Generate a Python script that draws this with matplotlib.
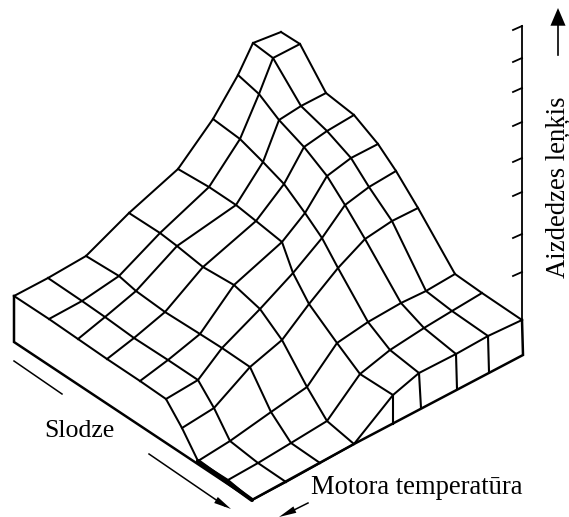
import matplotlib
matplotlib.use("Agg")
import matplotlib.pyplot as plt

# Surface mesh: one list per temperature line, one entry per load step.
mesh_x = [
    [14, 49, 78, 107, 140, 166, 182, 198, 228, 252],
    [48, 82, 105, 134, 168, 198, 214, 230, 258, 286],
    [86, 119, 136, 165, 200, 222, 250, 271, 291, 320],
    [129, 160, 177, 203, 234, 260, 282, 307, 327, 354],
    [178, 209, 236, 256, 282, 293, 309, 337, 360, 393],
    [213, 240, 263, 284, 305, 322, 338, 368, 390, 419],
    [238, 259, 279, 304, 327, 345, 365, 401, 424, 456],
    [253, 273, 301, 327, 351, 369, 392, 426, 452, 488],
    [281, 300, 326, 354, 378, 396, 418, 455, 482, 522],
]
mesh_y = [
    [296, 319, 339, 359, 381, 399, 428, 461, 480, 500],
    [278, 301, 317, 338, 360, 380, 408, 441, 463, 482],
    [256, 276, 291, 312, 334, 348, 367, 412, 443, 463],
    [213, 233, 246, 267, 285, 309, 340, 387, 421, 444],
    [169, 187, 205, 221, 242, 273, 304, 343, 374, 395],
    [119, 139, 162, 184, 213, 238, 268, 322, 350, 373],
    [75, 94, 120, 147, 176, 205, 239, 303, 328, 354],
    [43, 58, 106, 131, 158, 187, 221, 291, 311, 336],
    [32, 44, 93, 115, 144, 171, 208, 274, 293, 320],
]

# Base block outline and the vertical walls on the temperature side
base_x = [14, 14, 252, 354, 523, 522]
base_y = [296, 342, 500, 444, 355, 320]
wall_top_x = [393, 419, 456, 488]
wall_top_y = [395, 373, 354, 336]
wall_bottom_x = [393, 421, 457, 489]
wall_bottom_y = [424, 408, 389, 372]

# Height scale
scale_x = 522
scale_top = 26
scale_bottom = 320
scale_ticks = [26, 58, 88, 122, 158, 192, 234, 272]

title_z = "Aizdedzes leņķis"
title_load = "Slodze"
title_temp = "Motora temperatūra"

plt.rcParams["font.family"] = ["Liberation Serif", "DejaVu Serif"]
fig = plt.figure(figsize=(5.69, 5.17), dpi=100, facecolor="white")
ax = fig.add_axes([0, 0, 1, 1])
ax.set_xlim(0, 569)
ax.set_ylim(517, 0)
ax.axis("off")

LW = 1.45
for xs, ys in zip(mesh_x, mesh_y):
    ax.plot(xs, ys, color="black", lw=LW, solid_joinstyle="round")
for i in range(len(mesh_x[0])):
    ax.plot([r[i] for r in mesh_x], [r[i] for r in mesh_y], color="black", lw=LW,
            solid_joinstyle="round")

ax.plot(base_x, base_y, color="black", lw=1.8, solid_joinstyle="miter")
ax.plot([mesh_x[0][7], mesh_x[0][9]], [mesh_y[0][7], mesh_y[0][9]], color="black", lw=3.0,
        solid_capstyle="round")
for x0, y0, x1, y1 in zip(wall_top_x, wall_top_y, wall_bottom_x, wall_bottom_y):
    ax.plot([x0, x1], [y0, y1], color="black", lw=1.5)

ax.plot([scale_x, scale_x], [scale_top, scale_bottom], color="black", lw=1.3)
for t in scale_ticks:
    ax.plot([scale_x, scale_x - 9], [t, t + 4], color="black", lw=1.3)

# Direction arrows
ax.plot([558, 558], [55, 16], color="black", lw=1.2)
ax.annotate("", xy=(558, 8), xytext=(558, 22),
            arrowprops=dict(arrowstyle="-|>,head_length=0.75,head_width=0.32", color="black", lw=0,
                            shrinkA=0, shrinkB=0, mutation_scale=17))
ax.plot([14, 62], [361, 394], color="black", lw=1.1)
ax.plot([149, 225], [454, 506], color="black", lw=1.1)
ax.annotate("", xy=(231, 509), xytext=(216, 500),
            arrowprops=dict(arrowstyle="-|>,head_length=0.9,head_width=0.18", color="black", lw=0,
                            shrinkA=0, shrinkB=0, mutation_scale=14))
ax.plot([308, 288], [503, 513], color="black", lw=1.1)
ax.annotate("", xy=(279, 517), xytext=(294, 510),
            arrowprops=dict(arrowstyle="-|>,head_length=0.9,head_width=0.18", color="black", lw=0,
                            shrinkA=0, shrinkB=0, mutation_scale=14))

ax.text(557.5, 187, title_z, rotation=90, ha="center", va="center", fontsize=19.2, color="black")
ax.text(44, 431, title_load, ha="left", va="center", fontsize=18.6, color="black")
ax.text(311, 488, title_temp, ha="left", va="center", fontsize=19.2, color="black")

fig.savefig("out.png", dpi=100, facecolor="white")
